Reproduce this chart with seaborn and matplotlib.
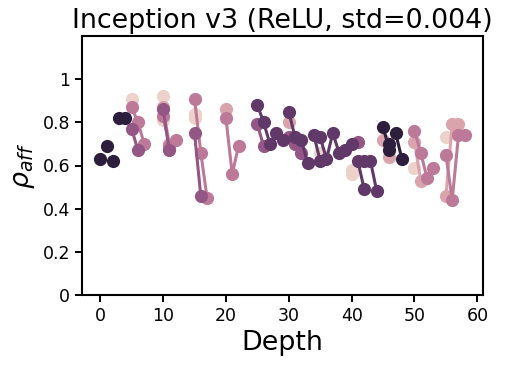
import numpy as np
import pandas as pd
import matplotlib
matplotlib.use("Agg")
import matplotlib.pyplot as plt
import seaborn as sns

sns.set_style("ticks", {"axes.edgecolor": "black", "text.color": "black",
                        "axes.labelcolor": "black", "xtick.color": "black",
                        "ytick.color": "black"})

# each run of points is one connected unit; hue level 0 (light) .. 5 (dark)
depth = [0, 1, 2, 3, 4,
         5, 5, 6, 7, 5, 6,
         10, 10, 10, 11, 10, 11, 12, 10, 11,
         15, 15, 15, 16, 17, 15, 16,
         20, 20, 21, 22,
         25, 26, 27, 28, 29, 25, 26,
         30, 31, 32, 33, 30, 31, 32, 30,
         34, 35, 35, 36, 37, 38, 39, 40,
         41, 42, 42, 43, 44, 41, 35, 40, 40,
         45, 46, 47, 48, 46, 45, 46,
         50, 51, 52, 53, 50, 51, 50, 55,
         55, 56, 57, 58, 55, 56, 57]
rho = [0.63, 0.69, 0.62, 0.82, 0.82,
       0.91, 0.87, 0.80, 0.70, 0.77, 0.67,
       0.92, 0.81, 0.86, 0.67, 0.83, 0.69, 0.72, 0.87, 0.70,
       0.84, 0.82, 0.91, 0.66, 0.45, 0.75, 0.46,
       0.86, 0.82, 0.56, 0.69,
       0.88, 0.80, 0.70, 0.75, 0.72, 0.79, 0.69,
       0.85, 0.73, 0.72, 0.61, 0.73, 0.70, 0.66, 0.80,
       0.74, 0.62, 0.73, 0.63, 0.75, 0.66, 0.67, 0.70,
       0.62, 0.49, 0.62, 0.62, 0.48, 0.71, 0.66, 0.58, 0.56,
       0.78, 0.67, 0.75, 0.63, 0.70, 0.72, 0.64,
       0.76, 0.66, 0.54, 0.59, 0.71, 0.53, 0.59, 0.73,
       0.65, 0.44, 0.74, 0.74, 0.46, 0.79, 0.79]
level = [5, 5, 5, 5, 5,
         0, 2, 2, 2, 3, 3,
         0, 0, 3, 3, 2, 2, 2, 1, 1,
         0, 0, 2, 2, 2, 3, 3,
         1, 2, 2, 2,
         4, 4, 4, 4, 4, 3, 3,
         4, 4, 4, 4, 3, 3, 3, 1,
         4, 4, 4, 4, 4, 4, 4, 4,
         4, 4, 4, 4, 4, 3, 0, 0, 0,
         5, 5, 5, 5, 5, 1, 1,
         2, 2, 2, 2, 1, 1, 0, 0,
         2, 2, 2, 2, 1, 1, 1]
unit = [0, 1, 2, 3, 4,
        5, 6, 6, 6, 7, 7,
        8, 9, 10, 10, 11, 11, 11, 12, 12,
        13, 14, 15, 15, 15, 16, 16,
        17, 18, 18, 18,
        19, 19, 19, 19, 19, 20, 20,
        21, 21, 21, 21, 22, 22, 22, 23,
        24, 24, 25, 25, 25, 25, 25, 25,
        26, 26, 27, 27, 27, 28, 29, 30, 31,
        32, 32, 33, 33, 34, 35, 36,
        37, 37, 37, 37, 38, 38, 39, 40,
        41, 41, 41, 41, 42, 42, 42]

df = pd.DataFrame({"Depth": depth, "rho": rho, "level": level, "unit": unit})

fig, ax = plt.subplots(figsize=(5.06, 3.67), dpi=100)
sns.lineplot(data=df, x="Depth", y="rho", hue="level", units="unit",
             estimator=None, sort=False, marker="o", markersize=9.5,
             markeredgewidth=0, linewidth=2.2, legend=False, ax=ax)

ax.set_ylim(0, 1.2)
ax.set_yticks([0, 0.2, 0.4, 0.6, 0.8, 1])
ax.set_yticklabels(["0", "0.2", "0.4", "0.6", "0.8", "1"])
ax.set_xticks([0, 10, 20, 30, 40, 50, 60])
ax.tick_params(labelsize=12.5, length=5, width=1.4, colors="black")
for s in ax.spines.values():
    s.set_linewidth(1.5)
    s.set_color("black")
ax.set_xlabel("Depth", fontsize=19.4, color="black")
ax.set_ylabel(r"$\rho_{aff}$", fontsize=19.4, color="black")
ax.set_title("Inception v3 (ReLU, std=0.004)", fontsize=19.4, color="black")

fig.subplots_adjust(left=82/506, right=483/506, top=1-36/367, bottom=1-295/367)
fig.savefig("out.png", dpi=100)
